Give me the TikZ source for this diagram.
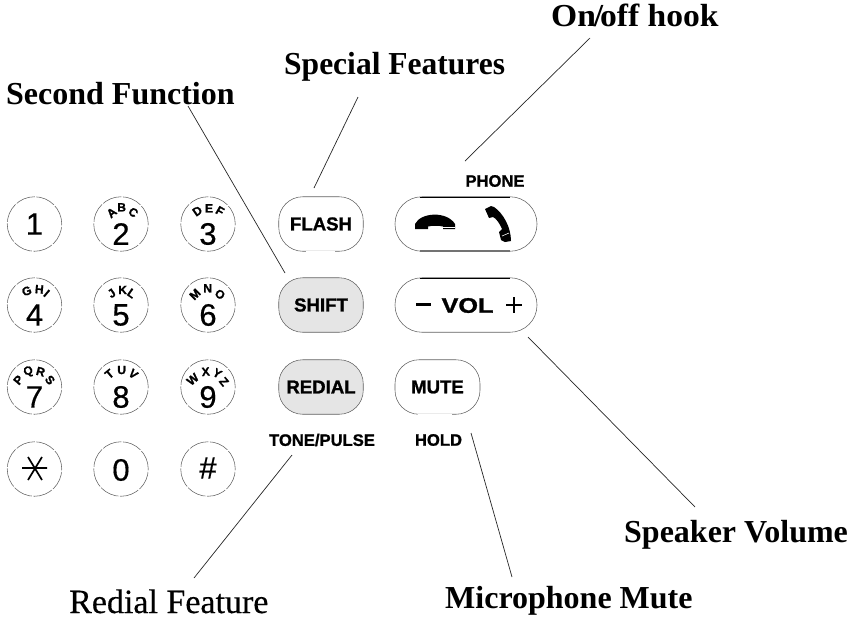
\documentclass[tikz,border=0pt]{standalone}
\usepackage{fontspec}
\usetikzlibrary{calc}
\setmainfont{Liberation Serif}
\setsansfont{Liberation Sans}
\newfontface\heavysans[FakeBold=1.2]{Liberation Sans Bold}
\newfontface\midsans[FakeBold=0.5]{Liberation Sans}
\newfontface\midserif[FakeBold=0.4]{Liberation Serif}
\tikzset{
  rim/.style={draw=black!62,line width=0.55pt},
  key/.style={circle,rim,minimum size=54.5pt,inner sep=0pt,dash pattern=on 19.6pt off 1.6pt},
  digit/.style={font=\midsans\fontsize{31}{31}\selectfont,inner sep=0pt},
  pill/.style={rectangle,rim,rounded corners=24pt,minimum height=54.5pt,inner sep=0pt,font=\heavysans\fontsize{18.6}{19}\selectfont},
  litfill/.style={fill=black!10},
  tag/.style={font=\heavysans\fontsize{16.6}{17}\selectfont,inner sep=0pt},
  calllabel/.style={font=\rmfamily\bfseries\fontsize{32}{32}\selectfont,inner sep=0pt,anchor=base west},
  calllight/.style={font=\midserif\fontsize{34}{34}\selectfont,inner sep=0pt,anchor=base west},
  arcletter/.style={font=\heavysans\fontsize{12}{12}\selectfont,inner sep=0pt},
  leader/.style={draw=black!85,line width=0.7pt},
  hardline/.style={draw=black,line width=1pt},
}
\begin{document}
\begin{tikzpicture}[x=1pt,y=-1pt]
\useasboundingbox (0,0) rectangle (855,619);
% number keys
\foreach \n/\x/\y in {k1/34.5/224,k2/121/224,k3/208/224,k4/34.5/305,k5/121/305,k6/208/305,k7/34.5/387,k8/121/387,k9/208/387,kstar/34.5/469,k0/121/469,khash/208/469}
  \node[key] (\n) at (\x,\y) {};
\foreach \n/\x/\y/\t in {d1/34.5/224/1,d2/121/234/2,d3/208/234/3,d4/34.5/315/4,d5/121/315/5,d6/208/315/6,d7/34.5/397/7,d8/121/397/8,d9/208/397/9,d0/121/470/0,dh/208/468/\#}
  \node[digit] (\n) at (\x,\y) {\t};
% star key
\draw[line width=1.7pt] (22,468) -- (47,468) (28,457) -- (42,480) (42,457) -- (28,480);
% letters round the tops of the keys, positions as read from the keypad
\foreach \x/\y/\r/\t [count=\c] in {335/98/40/A,365/82/0/B,400/97/-40/C,592/93/35/D,627/85/0/E,660/93/-30/F,80/333/20/G,118/328/-5/H,140/340/-40/I,335/340/35/J,368/330/0/K,395/340/-35/L,585/343/45/M,623/325/0/N,660/343/-40/O}
  \node[arcletter,rotate=\r] (la\c) at ({\x/3},{180+\y/3}) {\t};
\foreach \x/\y/\r/\t [count=\c] in {55/90/50/P,85/65/15/Q,122/65/-15/R,150/90/-50/S,328/72/40/T,365/60/0/U,400/72/-40/V,578/88/40/W,617/65/5/X,652/70/-30/Y,672/95/-50/Z}
  \node[arcletter,rotate=\r] (lb\c) at ({\x/3},{350+\y/3}) {\t};
% function keys
\node[pill,minimum width=84.5pt] (flash) at (321,224) {FLASH};
\node[pill,litfill,minimum width=84.5pt] (shift) at (321,305) {SHIFT};
\node[pill,litfill,minimum width=84.5pt] (redial) at (321,387) {REDIAL};
\node[pill,minimum width=85pt] (mute) at (437.5,387) {MUTE};
\node[pill,rounded corners=27pt,minimum width=142pt] (phone) at (466,224) {};
\node[pill,rounded corners=27pt,minimum width=142pt] (vol) at (466,305) {};
% breaks and heavier runs in the key outlines
\draw[white,line width=1.4pt] (306,251.3) -- (335,251.3) (418,414.3) -- (452,414.3);
\draw[hardline] (420,197) -- (510,197) (420,278) -- (510,278);
\draw[draw=black!55,line width=1.1pt] (420,251) -- (510,251);
% volume key contents
\node[font=\heavysans,inner sep=0pt] (volword) at (467.5,305.5) {\scalebox{1.2}[1]{\fontsize{21}{21}\selectfont VOL}};
\fill (416,302.6) rectangle (431,305.6);
\draw[line width=2.6pt] (506,305) -- (522,305) (514,297) -- (514,313);
% on-hook handset
\fill (415,229) -- (415,224) .. controls (421,212) and (447,211) .. (455,224) -- (455,229) -- (443,229) -- (443,226.5) .. controls (439,225.5) and (432,225.5) .. (428,226.5) -- (428,229) -- cycle;
\draw[white,line width=0.7pt] (443,227) -- (455,227);
% off-hook handset
\fill (485,209) -- (491,206) -- (494,207) .. controls (503,213) and (511,227) .. (511,241) -- (505,242) -- (501,240) -- (499,232) -- (502,229) .. controls (500,224) and (496,218) .. (493,217) -- (489,218) -- cycle;
\draw[white,line width=0.6pt] (502,236) -- (509,233);
% small captions
\node[tag] (phonetag) at (495,181) {PHONE};
\node[tag] (tonetag) at (322,440) {TONE/PULSE};
\node[tag] (holdtag) at (438.5,440) {HOLD};
% call-outs
\node[calllabel] (onoff) at (551,26) {\scalebox{1.05}[1]{On\kern-2pt/\kern-3pt off hook}};
\node[calllabel] (special) at (284,74) {\scalebox{0.985}[1]{Special Features}};
\node[calllabel] (second) at (6,104) {Second Function};
\node[calllabel] (speaker) at (624,542) {Speaker Volume};
\node[calllabel] (micmute) at (445,608) {Microphone Mute};
\node[calllight] (redialf) at (69,613) {Redial Feature};
% leader ends
\coordinate (c1a) at (590,38); \coordinate (c1b) at (465,161);
\coordinate (c2a) at (358,97); \coordinate (c2b) at (314,188);
\coordinate (c3a) at (188,106); \coordinate (c3b) at (285,273);
\coordinate (c4a) at (695,507); \coordinate (c4b) at (528,337);
\coordinate (c5a) at (512,577); \coordinate (c5b) at (471,433);
\coordinate (c6a) at (194,578); \coordinate (c6b) at (292,455);
\foreach \i in {1,...,6} \draw[leader] (c\i a) -- (c\i b);
\end{tikzpicture}
\end{document}
